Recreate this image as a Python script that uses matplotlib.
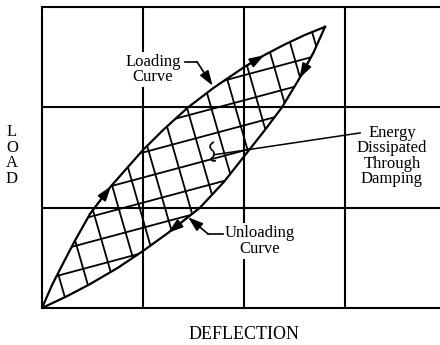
import numpy as np
import matplotlib
matplotlib.use("Agg")
import matplotlib.pyplot as plt
from matplotlib.patches import Polygon, FancyArrowPatch, PathPatch
from matplotlib.path import Path

plt.rcParams["font.family"] = ["Liberation Serif", "DejaVu Serif"]

# ── data (grid units: one cell = 1) ──────────────────────────────────────
# loading branch (upper edge of the loop)
load_x = [0.0, 0.100, 0.178, 0.320, 0.475, 0.683, 1.000, 1.200, 1.446, 1.700,
          2.000, 2.200, 2.400, 2.600, 2.802]
load_y = [0.0, 0.230, 0.385, 0.660, 0.937, 1.214, 1.575, 1.775, 2.000, 2.195,
          2.400, 2.520, 2.625, 2.720, 2.802]

# unloading branch (lower edge of the loop)
unload_x = [0.0, 0.248, 0.475, 0.750, 1.000, 1.250, 1.564, 1.800, 2.000, 2.200,
            2.376, 2.550, 2.690, 2.802]
unload_y = [0.0, 0.118, 0.238, 0.400, 0.568, 0.750, 1.000, 1.255, 1.510, 1.765,
            2.000, 2.290, 2.550, 2.802]

# cross hatching of the dissipated-energy area: y = slope * x + offset
hatch_a_slope = 0.27
hatch_a_offsets = [0.28, 0.53, 0.78, 1.03, 1.28, 1.53, 1.78]
hatch_b_slope = -3.5
hatch_b_offsets = [0.90, 1.82, 2.74, 3.65, 4.38, 5.26, 6.14, 7.02, 7.86,
                   8.70, 9.52, 10.45, 11.24, 12.11]

# direction arrowheads on the branches: (tail index, tip index)
load_arrows = [(4, 5), (10, 11)]
unload_arrows = [(6, 5), (12, 11)]

grid_x = [1, 2, 3]
grid_y = [1, 2]

# ── figure ───────────────────────────────────────────────────────────────
fig = plt.figure(figsize=(4.4, 3.45), dpi=100)
ax = fig.add_axes([42 / 440, 37 / 345, 398 / 440, 301 / 345])
ax.set_xlim(0, 398 / 101)
ax.set_ylim(0, 3)
ax.set_xticks([])
ax.set_yticks([])
for side in ("left", "top", "bottom"):
    ax.spines[side].set_linewidth(1.5)
ax.spines["right"].set_visible(False)

for gx in grid_x:
    ax.axvline(gx, color="black", lw=1.5, zorder=1)
for gy in grid_y:
    ax.axhline(gy, color="black", lw=1.5, zorder=1)

# loop outline + clip region for the hatching
loop_pts = list(zip(load_x, load_y)) + list(zip(unload_x, unload_y))[::-1]
loop = Polygon(loop_pts, closed=True, facecolor="none", edgecolor="none")
ax.add_patch(loop)

xs = np.array([-0.5, 3.5])
for c in hatch_a_offsets:
    ln, = ax.plot(xs, hatch_a_slope * xs + c, color="black", lw=1.3, zorder=3)
    ln.set_clip_path(loop)
ys = np.array([-0.5, 3.5])
for d in hatch_b_offsets:
    ln, = ax.plot((ys - d) / hatch_b_slope, ys, color="black", lw=1.3, zorder=3)
    ln.set_clip_path(loop)

ax.plot(load_x, load_y, color="black", lw=1.6, zorder=4, solid_joinstyle="round")
ax.plot(unload_x, unload_y, color="black", lw=1.6, zorder=4, solid_joinstyle="round")

def head(x0, y0, x1, y1):
    ax.add_patch(FancyArrowPatch((x0, y0), (x1, y1),
                                 arrowstyle="-|>,head_length=0.9,head_width=0.3",
                                 mutation_scale=10, color="black", lw=1.2,
                                 shrinkA=0, shrinkB=0, zorder=5))

for a, b in load_arrows:
    head(load_x[a], load_y[a], load_x[b], load_y[b])
for a, b in unload_arrows:
    head(unload_x[a], unload_y[a], unload_x[b], unload_y[b])

# ── labels and leaders ───────────────────────────────────────────────────
box = dict(facecolor="white", edgecolor="none", pad=1.5)
ax.text(1.099, 2.38, "Loading\nCurve", ha="center", va="center", fontsize=12,
        linespacing=0.95, bbox=box, zorder=2)
ax.plot([1.42, 1.535], [2.453, 2.453], color="black", lw=1.2, zorder=4)
head(1.535, 2.453, 1.69, 2.215)

ax.text(2.158, 0.668, "Unloading\nCurve", ha="center", va="center", fontsize=12,
        linespacing=0.95, bbox=box, zorder=2)
ax.plot([1.79, 1.644], [0.738, 0.738], color="black", lw=1.2, zorder=4)
head(1.644, 0.738, 1.446, 0.905)

ax.text(3.465, 1.516, "Energy\nDissipated\nThrough\nDamping", ha="center",
        va="center", fontsize=12, linespacing=0.95, zorder=2)
ax.plot([3.15, 1.70], [1.745, 1.527], color="black", lw=1.1, zorder=4)

# small squiggle at the end of the energy leader
squiggle = Path(
    [(1.703, 1.655), (1.655, 1.630), (1.655, 1.600), (1.683, 1.575),
     (1.712, 1.550), (1.712, 1.520), (1.683, 1.497),
     (1.660, 1.478), (1.690, 1.455), (1.722, 1.470)],
    [Path.MOVETO, Path.CURVE4, Path.CURVE4, Path.CURVE4,
     Path.CURVE4, Path.CURVE4, Path.CURVE4,
     Path.CURVE4, Path.CURVE4, Path.CURVE4])
ax.add_patch(PathPatch(squiggle, facecolor="none", edgecolor="black", lw=1.2,
                       zorder=5))

fig.text(12 / 440, 0.549, "L\nO\nA\nD", ha="center", va="center", fontsize=12,
         linespacing=0.95)
fig.text(244 / 440, 0.029, "DEFLECTION", ha="center", va="center", fontsize=13)

fig.savefig("out.png", dpi=100)
